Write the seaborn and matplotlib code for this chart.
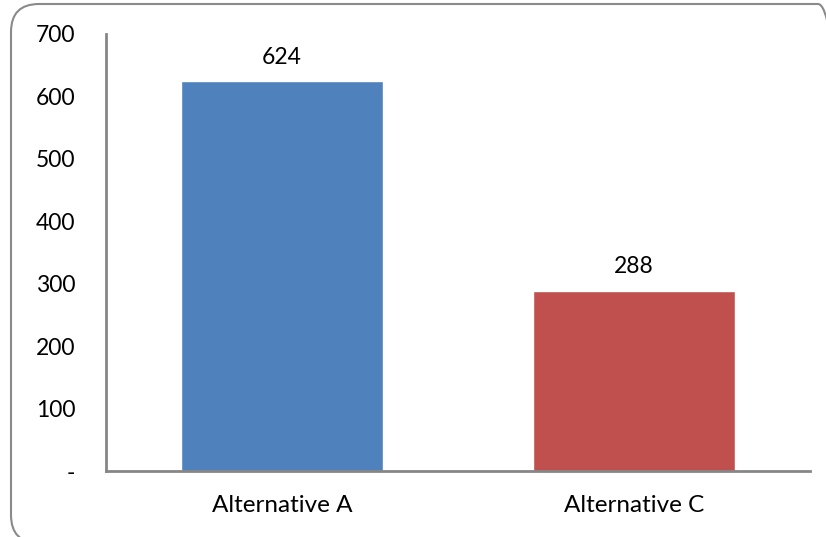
import matplotlib
matplotlib.use("Agg")
import matplotlib.pyplot as plt
from matplotlib.patches import FancyBboxPatch
import seaborn as sns
import pandas as pd

categories = ["Alternative A", "Alternative C"]
values = [624, 288]
colors = ["#4F81BD", "#C0504D"]
yticks = [0, 100, 200, 300, 400, 500, 600, 700]
ytick_labels = ["-", "100", "200", "300", "400", "500", "600", "700"]

sns.set_theme(style="white")
plt.rcParams['font.family'] = ['Lato', 'DejaVu Sans']

df = pd.DataFrame({"cat": categories, "val": values})

fig = plt.figure(figsize=(8.26, 5.37), dpi=100)
ax = fig.add_axes([106/826, 66/537, 704/826, 437/537])

sns.barplot(data=df, x="cat", y="val", hue="cat", palette=colors,
            width=0.574, saturation=1, legend=False, ax=ax)

ax.set_xlim(-0.5, 1.5)
ax.set_ylim(0, 700)
ax.set_yticks(yticks)
ax.set_yticklabels(ytick_labels)
ax.set_xlabel("")
ax.set_ylabel("")
ax.tick_params(axis='y', length=0, pad=22, labelsize=16.5, labelcolor="black")
ax.tick_params(axis='x', length=0, pad=17, labelsize=17.5, labelcolor="black")

for s in ["top", "right"]:
    ax.spines[s].set_visible(False)
for s in ["left", "bottom"]:
    ax.spines[s].set_color("#868686")
    ax.spines[s].set_linewidth(2)

for cont in ax.containers:
    ax.bar_label(cont, labels=[f"{v:.0f}" for v in cont.datavalues],
                 padding=10, fontsize=16.5, color="black")

frame = FancyBboxPatch((11, -6), 835, 539, boxstyle="round,pad=0,rounding_size=28",
                       transform=None, facecolor="none", edgecolor="#8a8a8a",
                       linewidth=1.5, clip_on=False)
fig.patches.append(frame)

fig.savefig("out.png", dpi=100)
